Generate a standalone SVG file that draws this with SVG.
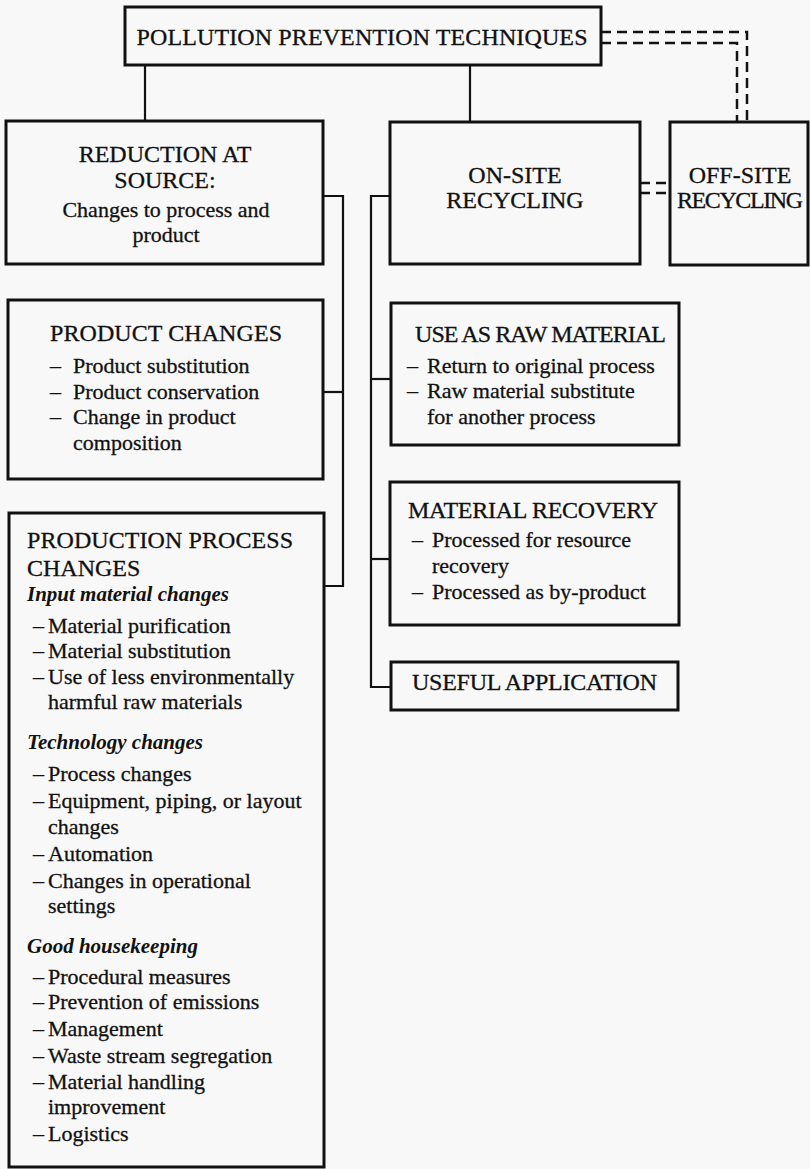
<svg xmlns="http://www.w3.org/2000/svg" width="810" height="1169" viewBox="0 0 810 1169">
<style>
.box{fill:none;stroke:#111;stroke-width:3}
.ln{fill:none;stroke:#111;stroke-width:2.2}
.dash{fill:none;stroke:#111;stroke-width:2.5;stroke-dasharray:10 6}
text{font-family:"Liberation Serif","Times New Roman",serif;fill:#111;stroke:#111;stroke-width:0.3}
.h{font-size:24px}
.t{font-size:22px}
.i{font-size:21px;font-style:italic;font-weight:bold;stroke-width:0}
.c{text-anchor:middle}
</style>
<rect x="0" y="0" width="810" height="1169" fill="#f8f8f8"/>
<g id="connectors">
<line class="ln" x1="145" y1="65" x2="145" y2="121"/>
<line class="ln" x1="470" y1="65" x2="470" y2="122"/>
<polyline class="ln" points="323,196 343,196 343,586 324,586"/>
<line class="ln" x1="343" y1="392" x2="323" y2="392"/>
<polyline class="ln" points="390,196 371,196 371,687 391,687"/>
<line class="ln" x1="371" y1="379" x2="391" y2="379"/>
<line class="ln" x1="371" y1="559" x2="390" y2="559"/>
<polyline class="dash" points="601,32 747,32 747,122"/>
<polyline class="dash" points="601,43 737,43 737,122"/>
<line class="dash" x1="640" y1="183" x2="670" y2="183"/>
<line class="dash" x1="640" y1="193" x2="670" y2="193"/>
</g>
<g id="pollution-prevention">
<rect class="box" x="125" y="7" width="476" height="58"/>
<text class="h c" x="362" y="45" textLength="451">POLLUTION PREVENTION TECHNIQUES</text>
</g>
<g id="reduction-at-source">
<rect class="box" x="6" y="121" width="317" height="143"/>
<text class="h c" x="165" y="162">REDUCTION AT</text>
<text class="h c" x="165" y="188">SOURCE:</text>
<text class="t c" x="166" y="217">Changes to process and</text>
<text class="t c" x="166" y="242">product</text>
</g>
<g id="on-site-recycling">
<rect class="box" x="390" y="122" width="250" height="142"/>
<text class="h c" x="515" y="183">ON-SITE</text>
<text class="h c" x="515" y="208">RECYCLING</text>
</g>
<g id="off-site-recycling">
<rect class="box" x="670" y="122" width="138" height="143"/>
<text class="h c" x="740" y="183">OFF-SITE</text>
<text class="h c" x="740" y="208" textLength="126">RECYCLING</text>
</g>
<g id="product-changes">
<rect class="box" x="8" y="300" width="315" height="179"/>
<text class="h" x="50" y="341" textLength="232">PRODUCT CHANGES</text>
<text class="t" x="50" y="373">–</text><text class="t" x="73" y="373">Product substitution</text>
<text class="t" x="50" y="399">–</text><text class="t" x="73" y="399">Product conservation</text>
<text class="t" x="50" y="424">–</text><text class="t" x="73" y="424">Change in product</text>
<text class="t" x="73" y="450">composition</text>
</g>
<g id="production-process-changes">
<rect class="box" x="9" y="513" width="315" height="654"/>
<text class="h" x="27" y="548" textLength="266">PRODUCTION PROCESS</text>
<text class="h" x="27" y="576">CHANGES</text>
<text class="i" x="27" y="601">Input material changes</text>
<text class="t" x="33" y="633">–</text><text class="t" x="48" y="633">Material purification</text>
<text class="t" x="33" y="658">–</text><text class="t" x="48" y="658">Material substitution</text>
<text class="t" x="33" y="684">–</text><text class="t" x="48" y="684">Use of less environmentally</text>
<text class="t" x="48" y="709">harmful raw materials</text>
<text class="i" x="27" y="749">Technology changes</text>
<text class="t" x="33" y="781">–</text><text class="t" x="48" y="781">Process changes</text>
<text class="t" x="33" y="808">–</text><text class="t" x="48" y="808">Equipment, piping, or layout</text>
<text class="t" x="48" y="834">changes</text>
<text class="t" x="33" y="861">–</text><text class="t" x="48" y="861">Automation</text>
<text class="t" x="33" y="888">–</text><text class="t" x="48" y="888">Changes in operational</text>
<text class="t" x="48" y="913">settings</text>
<text class="i" x="27" y="953">Good housekeeping</text>
<text class="t" x="33" y="984">–</text><text class="t" x="48" y="984">Procedural measures</text>
<text class="t" x="33" y="1009">–</text><text class="t" x="48" y="1009">Prevention of emissions</text>
<text class="t" x="33" y="1036">–</text><text class="t" x="48" y="1036">Management</text>
<text class="t" x="33" y="1063">–</text><text class="t" x="48" y="1063">Waste stream segregation</text>
<text class="t" x="33" y="1089">–</text><text class="t" x="48" y="1089">Material handling</text>
<text class="t" x="48" y="1114">improvement</text>
<text class="t" x="33" y="1141">–</text><text class="t" x="48" y="1141">Logistics</text>
</g>
<g id="use-as-raw-material">
<rect class="box" x="391" y="303" width="288" height="142"/>
<text class="h" x="415" y="342" textLength="251">USE AS RAW MATERIAL</text>
<text class="t" x="407" y="373">–</text><text class="t" x="427" y="373">Return to original process</text>
<text class="t" x="407" y="398">–</text><text class="t" x="427" y="398">Raw material substitute</text>
<text class="t" x="427" y="424">for another process</text>
</g>
<g id="material-recovery">
<rect class="box" x="390" y="482" width="289" height="143"/>
<text class="h" x="408" y="518" textLength="250">MATERIAL RECOVERY</text>
<text class="t" x="412" y="547">–</text><text class="t" x="432" y="547">Processed  for resource</text>
<text class="t" x="432" y="573">recovery</text>
<text class="t" x="412" y="599">–</text><text class="t" x="432" y="599">Processed as by-product</text>
</g>
<g id="useful-application">
<rect class="box" x="391" y="662" width="287" height="48"/>
<text class="h" x="412" y="690" textLength="245">USEFUL APPLICATION</text>
</g>
</svg>
